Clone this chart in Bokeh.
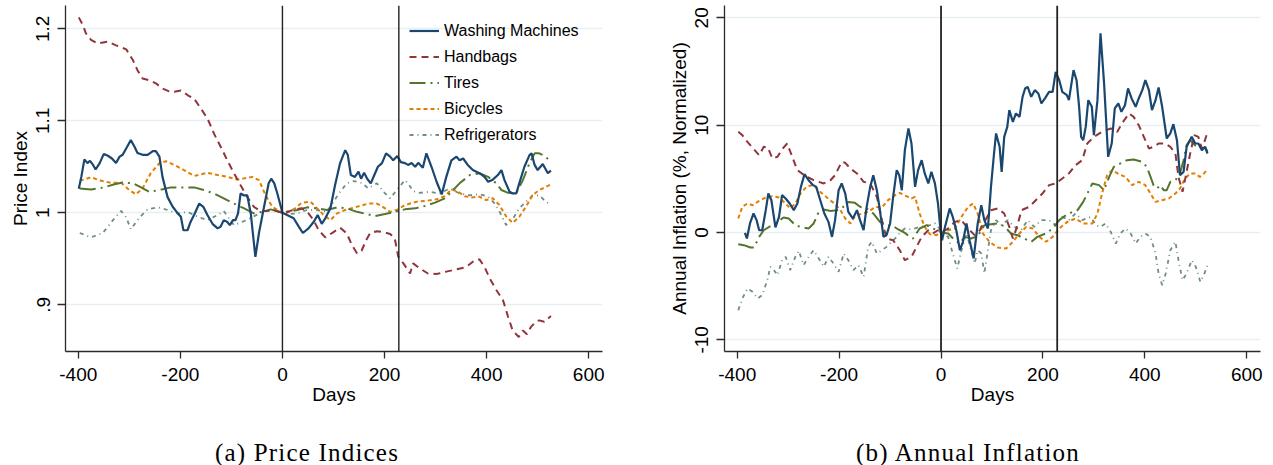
from bokeh.plotting import figure
from bokeh.models import Range1d, FixedTicker, Span, Legend, LegendItem, Div
from bokeh.layouts import row, column
from bokeh.embed import file_html
from bokeh.resources import INLINE

# ---------------- data ----------------
series_names = ["Washing Machines", "Handbags", "Tires", "Bicycles", "Refrigerators"]
event_days = [0, 228]
x_ticks = [-400, -200, 0, 200, 400, 600]
x_labels = ["-400", "-200", "0", "200", "400", "600"]
ya_ticks = [0.9, 1.0, 1.1, 1.2]
ya_labels = [".9", "1", "1.1", "1.2"]
yb_ticks = [-10, 0, 10, 20]
yb_labels = ["-10", "0", "10", "20"]

# Panel (a): price indices
wm_a_days = [-399, -394, -388, -382, -377, -371, -366, -358, -350, -342, -334, -326, -319, -313, -304, -297, -290, -284, -274, -264, -254, -248, -241, -235, -225, -215, -205, -199, -194, -186, -180, -172, -163, -155, -147, -137, -127, -121, -115, -108, -103, -97, -92, -87, -82, -76, -69, -62, -58, -53, -46, -36, -27, -22, -16, -10, -4, 0, 9, 22, 32, 40, 51, 61, 69, 77, 84, 94, 103, 113, 123, 128, 134, 142, 149, 154, 160, 166, 173, 180, 187, 195, 203, 211, 217, 225, 232, 240, 246, 253, 260, 266, 275, 282, 292, 302, 312, 321, 331, 341, 347, 354, 363, 373, 386, 396, 403, 412, 422, 429, 435, 445, 451, 458, 464, 474, 484, 488, 494, 500, 510, 520, 526]
wm_a_vals = [1.026, 1.039, 1.058, 1.054, 1.0565, 1.052, 1.047, 1.054, 1.064, 1.062, 1.059, 1.054, 1.061, 1.063, 1.072, 1.079, 1.072, 1.065, 1.063, 1.063, 1.067, 1.067, 1.061, 1.039, 1.017, 1.0065, 0.9993, 0.9957, 0.981, 0.981, 0.990, 0.999, 1.010, 1.0065, 0.9975, 0.988, 0.983, 0.985, 0.992, 0.990, 0.9866, 0.992, 0.992, 0.9993, 1.021, 1.019, 1.019, 0.9993, 0.978, 0.952, 0.978, 1.0065, 1.032, 1.037, 1.032, 1.021, 1.0084, 1.0, 0.9975, 0.994, 0.985, 0.978, 0.983, 0.990, 0.9975, 0.988, 0.994, 1.005, 1.030, 1.054, 1.068, 1.063, 1.041, 1.039, 1.0446, 1.037, 1.0435, 1.037, 1.032, 1.041, 1.050, 1.054, 1.0646, 1.061, 1.057, 1.0616, 1.055, 1.054, 1.052, 1.054, 1.050, 1.0543, 1.049, 1.0646, 1.050, 1.0337, 1.020, 1.039, 1.057, 1.061, 1.057, 1.059, 1.052, 1.0464, 1.043, 1.039, 1.0337, 1.036, 1.041, 1.0464, 1.0355, 1.0228, 1.021, 1.021, 1.032, 1.050, 1.0627, 1.0646, 1.052, 1.0464, 1.053, 1.043, 1.0457]

hb_a_days = [-399, -391, -385, -375, -362, -342, -326, -306, -293, -284, -274, -261, -248, -235, -222, -212, -199, -186, -173, -160, -147, -134, -121, -108, -95, -82, -69, -56, -43, -30, -17, 0, 9, 25, 38, 51, 61, 71, 84, 100, 113, 126, 136, 146, 155, 164, 172, 185, 198, 211, 220, 227, 237, 250, 256, 269, 285, 302, 321, 341, 360, 377, 386, 396, 406, 419, 432, 442, 451, 463, 471, 479, 487, 497, 503, 513, 526]
hb_a_vals = [1.2124, 1.204, 1.195, 1.188, 1.184, 1.186, 1.182, 1.1776, 1.166, 1.155, 1.146, 1.144, 1.1407, 1.135, 1.132, 1.1315, 1.133, 1.128, 1.124, 1.1135, 1.1026, 1.086, 1.0717, 1.057, 1.043, 1.030, 1.0174, 1.0065, 1.002, 1.002, 1.003, 1.0, 1.001, 1.0037, 1.0048, 0.9993, 0.992, 0.981, 0.9733, 0.979, 0.9837, 0.9776, 0.965, 0.956, 0.9587, 0.9703, 0.978, 0.980, 0.979, 0.977, 0.972, 0.952, 0.945, 0.934, 0.945, 0.9396, 0.934, 0.9334, 0.936, 0.9385, 0.941, 0.9486, 0.9493, 0.941, 0.9287, 0.916, 0.905, 0.887, 0.872, 0.865, 0.872, 0.868, 0.876, 0.882, 0.883, 0.8815, 0.8877]

ti_a_days = [-397, -375, -349, -329, -313, -293, -277, -261, -241, -219, -193, -173, -154, -134, -115, -95, -75, -56, -40, -23, -7, 0, 9, 29, 48, 68, 87, 107, 126, 146, 165, 181, 201, 220, 240, 260, 279, 299, 318, 331, 347, 367, 386, 403, 419, 429, 442, 458, 471, 484, 494, 503, 516, 526]
ti_a_vals = [1.0265, 1.0254, 1.0276, 1.031, 1.033, 1.032, 1.0276, 1.0228, 1.0247, 1.0276, 1.0276, 1.0276, 1.0247, 1.021, 1.0157, 1.010, 1.0048, 0.9993, 1.001, 1.0037, 1.001, 1.0, 1.001, 1.003, 1.0059, 1.0048, 1.003, 1.0059, 1.0048, 1.001, 0.9986, 0.9964, 0.9986, 1.001, 1.0037, 1.0048, 1.0073, 1.011, 1.0157, 1.0228, 1.032, 1.041, 1.043, 1.039, 1.032, 1.0247, 1.0217, 1.021, 1.0355, 1.054, 1.0646, 1.0646, 1.061, 1.054]

bi_a_days = [-397, -375, -355, -336, -316, -300, -287, -274, -258, -241, -228, -212, -193, -173, -147, -127, -108, -88, -75, -59, -46, -33, -20, -4, 0, 9, 25, 38, 55, 68, 81, 94, 107, 123, 142, 168, 185, 198, 211, 224, 240, 263, 282, 302, 318, 331, 344, 357, 370, 386, 399, 412, 425, 438, 451, 464, 477, 490, 503, 516, 526]
bi_a_vals = [1.0348, 1.0385, 1.0348, 1.0326, 1.0326, 1.0247, 1.020, 1.0265, 1.043, 1.054, 1.056, 1.052, 1.0464, 1.040, 1.0435, 1.041, 1.039, 1.036, 1.0374, 1.039, 1.0355, 1.019, 1.0065, 1.001, 1.0, 1.0, 1.0048, 1.011, 1.012, 1.0048, 0.9975, 0.992, 0.9993, 1.003, 1.0059, 1.010, 1.010, 1.0059, 1.001, 1.003, 1.0084, 1.012, 1.013, 1.0146, 1.018, 1.0254, 1.0228, 1.018, 1.0167, 1.0174, 1.0138, 1.0157, 1.0084, 0.9964, 0.989, 0.9957, 1.0065, 1.019, 1.0247, 1.028, 1.031]

rf_a_days = [-397, -375, -352, -332, -316, -306, -297, -280, -264, -245, -225, -205, -186, -166, -147, -127, -115, -95, -75, -59, -40, -17, 0, 9, 29, 48, 68, 87, 100, 113, 126, 139, 155, 168, 185, 198, 211, 224, 240, 246, 256, 269, 289, 308, 328, 347, 367, 386, 403, 416, 429, 438, 451, 464, 477, 490, 503, 516, 526]
rf_a_vals = [0.978, 0.9733, 0.978, 0.992, 1.002, 0.995, 0.982, 0.995, 1.0037, 1.006, 1.003, 0.9993, 1.001, 0.9957, 0.992, 0.9975, 1.002, 0.9866, 0.991, 0.995, 1.001, 1.003, 1.0, 0.9986, 0.9993, 1.003, 1.003, 1.001, 1.012, 1.0228, 1.032, 1.0345, 1.0326, 1.0265, 1.032, 1.0228, 1.0157, 1.0247, 1.0355, 1.032, 1.0236, 1.0217, 1.0228, 1.021, 1.0265, 1.021, 1.019, 1.0203, 1.0174, 1.010, 0.9975, 0.9866, 0.993, 1.0048, 1.012, 1.019, 1.019, 1.012, 1.0084]

# Panel (b): annual inflation (%, normalized)
wm_b_days = [-385, -381, -375, -368, -362, -357, -351, -344, -339, -333, -325, -318, -312, -305, -297, -289, -282, -275, -268, -260, -251, -245, -237, -229, -221, -214, -208, -201, -195, -188, -182, -173, -165, -159, -152, -146, -139, -133, -126, -120, -113, -107, -100, -94, -87, -82, -77, -71, -64, -58, -51, -45, -38, -32, -25, -19, -12, -6, -1, 2, 7, 17, 23, 30, 37, 43, 50, 56, 64, 72, 79, 85, 92, 98, 104, 108, 115, 119, 124, 130, 134, 141, 147, 154, 160, 165, 170, 177, 184, 191, 197, 204, 212, 219, 225, 232, 238, 247, 251, 260, 266, 271, 275, 279, 284, 289, 296, 300, 307, 313, 320, 328, 335, 341, 348, 354, 361, 367, 374, 382, 388, 395, 401, 408, 414, 421, 427, 434, 443, 450, 456, 463, 469, 476, 482, 492, 499, 505, 512, 518, 523]
wm_b_vals = [-0.04, -0.56, 0.84, 1.77, 1.15, 0.21, 0.21, 2.08, 3.63, 3.0, 0.47, 1.45, 3.48, 3.17, 2.7, 2.08, 2.7, 4.25, 5.43, 4.87, 4.41, 4.25, 3.0, 1.77, 0.99, -0.41, 1.15, 3.94, 4.57, 3.63, 1.92, 1.30, 2.08, 1.15, 0.21, 2.39, 4.25, 5.34, 3.94, 2.08, -0.41, -0.25, 0.84, 3.32, 5.81, 5.34, 3.94, 7.67, 9.69, 8.29, 4.25, 5.81, 6.74, 5.50, 4.57, 5.65, 4.57, 2.70, 0.2, -0.72, 0.37, 2.24, 1.45, 0.21, -1.65, -0.87, 0.84, -0.72, -2.42, 0.84, 2.54, 1.15, 0.37, 4.25, 7.36, 9.23, 7.98, 5.65, 8.91, 9.84, 11.40, 10.31, 11.09, 10.77, 12.64, 13.42, 13.57, 12.64, 13.26, 12.95, 12.02, 12.49, 13.10, 13.10, 14.97, 14.19, 13.10, 12.80, 12.33, 15.13, 14.19, 11.71, 8.91, 8.60, 9.84, 12.33, 11.71, 9.07, 12.33, 18.55, 13.89, 7.05, 8.29, 11.56, 12.02, 11.24, 11.86, 13.42, 12.49, 11.71, 12.49, 13.26, 14.19, 13.26, 11.40, 12.33, 13.51, 11.71, 8.76, 9.23, 10.09, 8.60, 5.34, 5.65, 7.98, 8.91, 8.29, 8.29, 7.67, 7.98, 7.36]

hb_b_days = [-398, -390, -380, -367, -357, -348, -340, -331, -321, -312, -302, -292, -282, -266, -250, -230, -217, -208, -195, -188, -178, -165, -152, -139, -126, -116, -107, -94, -81, -71, -58, -48, -38, -25, -16, -6, 0, 14, 27, 40, 53, 66, 76, 85, 98, 111, 124, 134, 141, 149, 158, 173, 186, 199, 212, 225, 238, 251, 264, 277, 287, 300, 316, 333, 346, 355, 369, 378, 388, 398, 408, 417, 427, 440, 450, 460, 466, 474, 480, 489, 497, 505, 512, 518, 523]
hb_b_vals = [9.38, 9.07, 8.44, 7.74, 7.20, 7.98, 7.92, 6.90, 7.05, 7.74, 8.29, 7.05, 5.81, 5.25, 4.87, 4.57, 4.87, 5.34, 6.58, 6.49, 5.96, 5.50, 4.72, 4.57, 3.32, 1.15, -0.56, -0.72, -1.65, -2.58, -2.27, -1.34, -0.41, 0.21, -0.09, 0.21, 0.0, 0.37, 0.99, 1.15, 0.37, -0.25, 0.21, 0.99, 2.08, 2.24, 1.77, 0.52, -0.56, 0.52, 2.08, 2.39, 3.01, 3.63, 4.41, 4.57, 5.03, 5.50, 6.27, 6.74, 8.29, 8.91, 9.38, 9.69, 9.38, 10.16, 11.09, 10.77, 10.0, 8.91, 7.83, 7.98, 8.29, 8.29, 7.98, 7.36, 5.18, 3.79, 5.18, 7.36, 9.07, 8.91, 7.83, 8.60, 9.38]

ti_b_days = [-398, -387, -374, -367, -357, -348, -335, -321, -309, -299, -286, -273, -260, -250, -240, -230, -217, -204, -195, -182, -169, -159, -146, -133, -120, -107, -94, -84, -71, -61, -55, -42, -28, -16, -3, 0, 14, 27, 37, 46, 59, 72, 85, 98, 111, 124, 137, 150, 163, 177, 189, 206, 219, 232, 245, 258, 268, 279, 284, 297, 310, 320, 330, 339, 352, 365, 378, 395, 404, 411, 417, 424, 430, 437, 443, 450, 460, 469, 476, 482, 489, 498, 508, 517, 523]
ti_b_vals = [-1.09, -1.18, -1.40, -1.40, -0.41, 0.21, 0.59, 0.99, 1.40, 1.30, 0.68, 0.47, 0.37, 0.84, 1.92, 2.14, 2.01, 2.08, 2.24, 2.85, 2.76, 2.39, 2.24, 1.77, 0.99, 0.68, 0.60, 0.28, -0.04, -0.41, -0.56, 0.37, 0.68, 0.37, 0.15, 0.0, -0.09, -0.72, -1.03, -0.41, -0.56, -0.34, 0.68, 0.77, 0.84, 0.59, -0.09, -0.25, -0.56, -0.87, -0.41, -0.09, 0.37, 1.15, 1.61, 1.92, 2.08, 2.85, 3.32, 4.57, 4.41, 3.94, 5.18, 6.11, 6.43, 6.74, 6.80, 6.58, 6.11, 5.2, 4.41, 4.10, 4.41, 3.94, 3.94, 4.72, 4.87, 5.50, 6.74, 8.14, 8.60, 8.14, 7.83, 8.14, 7.51]

bi_b_days = [-398, -390, -380, -370, -357, -344, -331, -318, -305, -296, -286, -276, -263, -250, -237, -224, -211, -198, -188, -178, -169, -155, -143, -129, -116, -104, -90, -81, -68, -58, -51, -42, -32, -22, -9, 0, 14, 27, 40, 53, 63, 72, 82, 95, 111, 128, 141, 154, 167, 180, 193, 206, 219, 232, 248, 264, 279, 297, 307, 316, 326, 336, 349, 362, 375, 388, 401, 411, 421, 434, 447, 460, 469, 479, 489, 498, 508, 517, 523]
bi_b_vals = [1.30, 2.39, 2.70, 2.54, 2.94, 3.26, 3.38, 3.26, 2.70, 2.24, 2.70, 3.63, 4.31, 4.41, 3.78, 3.26, 2.76, 2.14, 1.30, 0.84, 1.52, 1.77, 1.92, 2.39, 2.33, 3.01, 3.48, 3.69, 3.38, 3.17, 3.32, 1.77, 0.52, -0.16, -0.25, 0.0, 0.21, 0.37, 1.45, 2.39, 2.70, 1.77, -0.09, -0.87, -1.40, -1.49, -0.87, -0.09, 0.52, 0.37, -0.41, -0.87, -0.41, 0.37, 0.99, 1.30, 0.84, 0.84, 1.77, 3.63, 5.34, 5.81, 5.43, 5.18, 4.41, 4.72, 4.41, 3.63, 2.85, 3.01, 3.17, 3.63, 4.10, 5.03, 5.50, 5.50, 5.18, 5.55, 5.87]

rf_b_days = [-398, -390, -380, -370, -360, -351, -341, -335, -328, -321, -312, -305, -296, -286, -279, -270, -260, -250, -240, -230, -221, -211, -201, -191, -182, -172, -162, -152, -143, -136, -126, -116, -107, -97, -87, -81, -71, -58, -45, -32, -22, -12, -3, 0, 14, 23, 32, 40, 50, 59, 66, 72, 79, 85, 92, 98, 108, 118, 131, 144, 157, 170, 183, 196, 212, 225, 238, 251, 264, 277, 294, 304, 313, 323, 333, 343, 352, 362, 372, 382, 391, 401, 411, 421, 427, 434, 441, 450, 460, 466, 474, 482, 492, 500, 509, 517, 523]
rf_b_vals = [-7.24, -6.15, -5.22, -5.53, -6.15, -5.84, -4.45, -3.20, -3.51, -3.98, -2.58, -2.27, -3.51, -2.27, -1.71, -3.05, -2.27, -1.65, -2.42, -3.20, -2.27, -2.89, -3.67, -1.96, -2.58, -3.51, -3.05, -4.14, -1.34, -0.87, -1.96, -1.65, -1.34, -0.87, -0.41, -0.04, 0.37, 0.28, 0.47, 0.59, 0.68, 0.84, 0.37, 0.0, -0.41, -1.96, -3.36, -1.65, -0.09, -1.65, -2.89, -1.65, -1.96, -3.82, -1.65, 0.21, 1.15, 0.68, 1.15, 0.52, 0.21, 1.15, 0.52, 1.15, 1.15, 0.68, 1.45, 1.15, 1.77, 1.15, 1.45, 0.68, 0.52, 0.84, 0.06, -1.03, -0.09, 0.37, -0.09, -1.03, -0.41, -0.09, -0.41, -1.96, -3.82, -4.91, -3.82, -1.65, -0.87, -2.58, -4.45, -3.82, -2.58, -3.20, -4.60, -3.82, -3.05]

# ---------------- styling ----------------
colors = ["#1a476f", "#90353b", "#55752f", "#e37e00", "#6e8e84"]
dashes = ["solid", "7 5", "16 5 2 5", "4 3", "4 4 1 4"]
widths = [2.2, 2.0, 2.0, 2.0, 1.8]
FONT = "Liberation Sans"


def make_fig(width, bl, br, yr, yticks, ylabels, ylabel, vline_w):
    p = figure(width=width, height=426, x_range=Range1d(-425, 627), y_range=Range1d(*yr),
               output_backend="svg", toolbar_location=None,
               min_border_left=bl, min_border_right=br, min_border_top=5, min_border_bottom=75)
    p.outline_line_color = None
    p.background_fill_color = "white"
    p.border_fill_color = "white"
    p.xgrid.visible = False
    p.ygrid.ticker = FixedTicker(ticks=yticks)
    p.ygrid.grid_line_color = "#e6eff1"
    p.ygrid.grid_line_width = 1.6
    p.xaxis.ticker = FixedTicker(ticks=x_ticks)
    p.xaxis.major_label_overrides = dict(zip(x_ticks, x_labels))
    p.yaxis.ticker = FixedTicker(ticks=yticks)
    p.yaxis.major_label_overrides = dict(zip(yticks, ylabels))
    p.yaxis.major_label_orientation = "vertical"
    for ax in (p.xaxis[0], p.yaxis[0]):
        ax.axis_line_color = "#2b2b2b"
        ax.axis_line_width = 1.3
        ax.major_tick_line_color = "#2b2b2b"
        ax.major_tick_line_width = 1.3
        ax.major_tick_in = 0
        ax.minor_tick_line_color = None
        ax.major_label_text_font = FONT
        ax.major_label_text_font_size = "19px"
        ax.major_label_text_color = "#000000"
        ax.axis_label_text_font = FONT
        ax.axis_label_text_font_size = "19px"
        ax.axis_label_text_font_style = "normal"
        ax.axis_label_text_color = "#000000"
    p.xaxis.major_tick_out = 7
    p.yaxis.major_tick_out = 8
    p.xaxis.major_label_standoff = 9
    p.yaxis.major_label_standoff = 8
    p.xaxis.axis_label_standoff = 0
    p.yaxis.axis_label_standoff = 3
    p.xaxis.axis_label = "Days"
    p.yaxis.axis_label = ylabel
    for d in event_days:
        p.add_layout(Span(location=d, dimension="height", line_color="#222222", line_width=vline_w))
    return p


pa = make_fig(632, 65, 30, (0.8492, 1.2253), ya_ticks, ya_labels, "Price Index", 1.4)
pb = make_fig(638, 92, 10, (-11.09, 21.15), yb_ticks, yb_labels, "Annual Inflation (%, Normalized)", 1.8)

data_a = [(wm_a_days, wm_a_vals), (hb_a_days, hb_a_vals), (ti_a_days, ti_a_vals),
          (bi_a_days, bi_a_vals), (rf_a_days, rf_a_vals)]
data_b = [(wm_b_days, wm_b_vals), (hb_b_days, hb_b_vals), (ti_b_days, ti_b_vals),
          (bi_b_days, bi_b_vals), (rf_b_days, rf_b_vals)]

# draw in reverse so washing machines is on top
rend_a = [None] * 5
for i in reversed(range(5)):
    xs, ys = data_a[i]
    rend_a[i] = pa.line(xs, ys, line_color=colors[i], line_width=widths[i], line_dash=dashes[i])
    xs, ys = data_b[i]
    pb.line(xs, ys, line_color=colors[i], line_width=widths[i], line_dash=dashes[i])

items = [LegendItem(label=series_names[i], renderers=[rend_a[i]]) for i in range(5)]

legend = Legend(items=items, location=(339, 201), label_text_font=FONT, label_text_font_size="16px",
                label_text_color="#000000", glyph_width=30, glyph_height=21, label_height=21,
                spacing=5, padding=5, label_standoff=5, margin=0,
                background_fill_alpha=0, border_line_alpha=0)
pa.add_layout(legend)

caption = Div(width=1270, height=37, text=(
    "<div style=\"position:relative;width:1270px;height:37px;font-family:'Liberation Serif',serif;"
    "font-size:25px;line-height:28px;color:#000\">"
    "<span style=\"position:absolute;left:102px;top:8px;width:400px;text-align:center;letter-spacing:1.2px\">(a) Price Indices</span>"
    "<span style=\"position:absolute;left:763px;top:8px;width:400px;text-align:center;letter-spacing:1.2px\">(b) Annual Inflation</span>"
    "</div>"))

layout = column(row(pa, pb), caption)
open("out.html", "w").write(file_html(layout, INLINE))
